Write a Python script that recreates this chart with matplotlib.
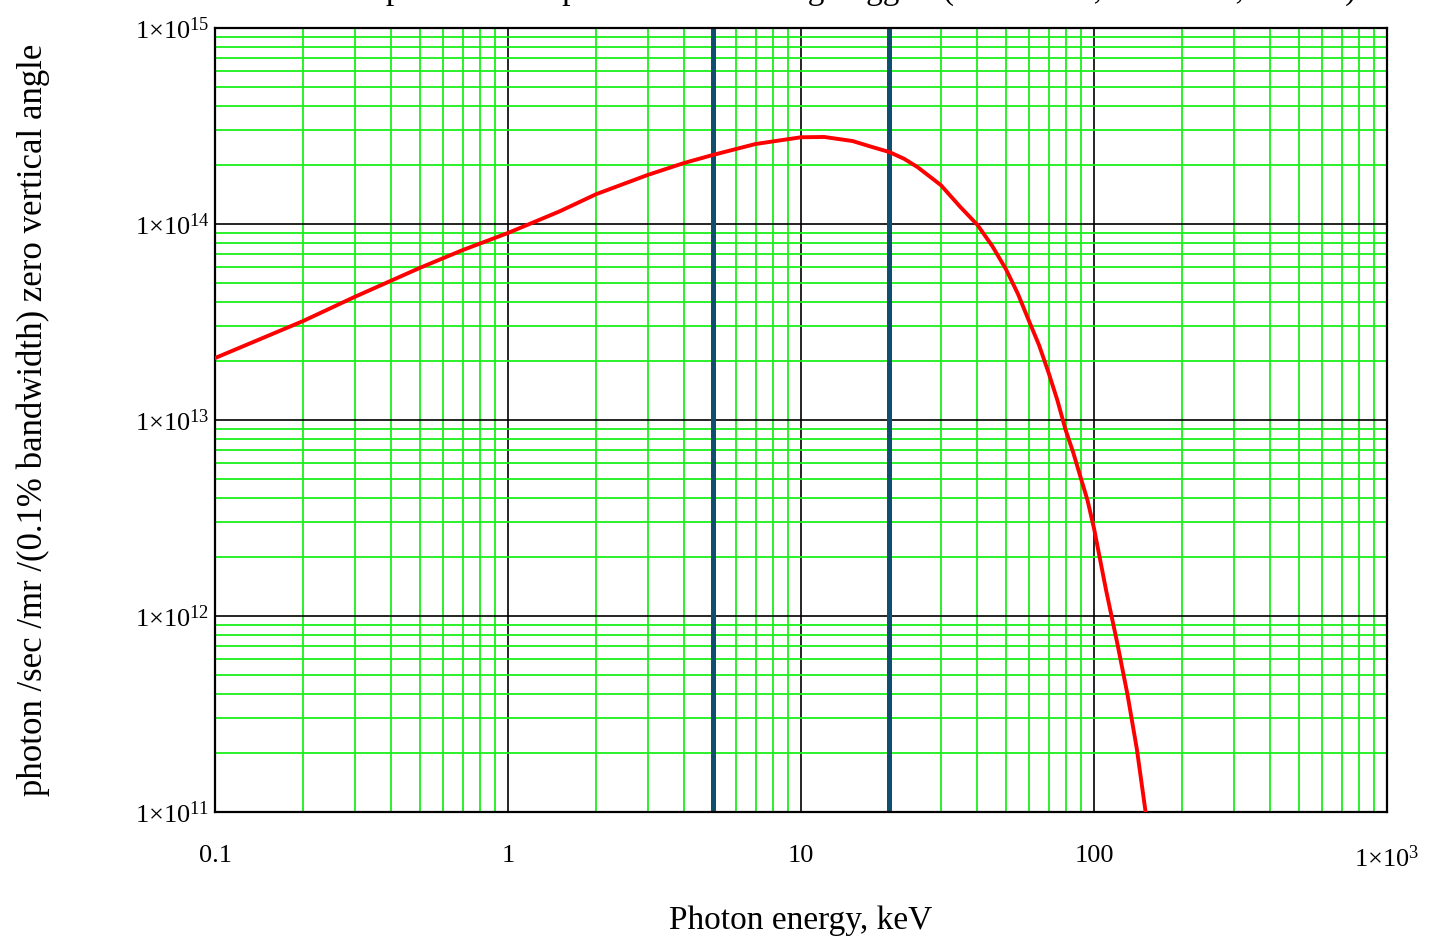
import matplotlib.pyplot as plt
from matplotlib.ticker import FixedLocator, LogLocator, NullFormatter
import numpy as np

# photon energy (keV) and flux
energy_kev = [0.1, 0.2, 0.3, 0.5, 0.7, 1, 1.5, 2, 3, 4, 5, 7, 10, 12, 15, 17.5, 20, 22.5,
              25, 30, 35, 40, 45, 50, 55, 60, 65, 70, 75, 80, 85, 90, 95, 100, 110, 120,
              130, 140, 150]
flux = [2.07e13, 3.2e13, 4.25e13, 5.97e13, 7.36e13, 9.0e13, 1.16e14, 1.42e14, 1.78e14,
        2.05e14, 2.25e14, 2.56e14, 2.77e14, 2.78e14, 2.65e14, 2.47e14, 2.33e14, 2.15e14,
        1.95e14, 1.58e14, 1.22e14, 9.9e13, 7.7e13, 5.9e13, 4.4e13, 3.2e13, 2.4e13,
        1.74e13, 1.26e13, 8.9e12, 6.8e12, 5.1e12, 3.9e12, 2.8e12, 1.35e12, 7.3e11,
        4.0e11, 2.1e11, 1.0e11]
marker_energies = [5, 20]  # vertical markers, keV

x_ticks = [0.1, 1, 10, 100, 1000]
x_tick_labels = ["0.1", "1", "10", "100", r"$1{\times}10^{3}$"]
y_ticks = [1e11, 1e12, 1e13, 1e14, 1e15]
y_tick_labels = [r"$1{\times}10^{%d}$" % e for e in range(11, 16)]

title = "Calculated photon flux spectrum of the long wiggler (E = 3 GeV, B = 1.5 T, N = 40)"

plt.rcParams['font.family'] = 'Liberation Serif'
plt.rcParams['mathtext.fontset'] = 'custom'
plt.rcParams['mathtext.rm'] = 'Liberation Serif'
plt.rcParams['mathtext.it'] = 'Liberation Serif:italic'

fig = plt.figure(figsize=(14.32, 9.47), dpi=100)
ax = fig.add_axes([215/1432, 1 - 812/947, (1387-215)/1432, (812-28)/947])

ax.set_xscale('log')
ax.set_yscale('log')
ax.set_xlim(0.1, 1000)
ax.set_ylim(1e11, 1e15)

# grid: green minor lines, black major lines
ax.xaxis.set_minor_locator(LogLocator(base=10, subs=np.arange(2, 10)))
ax.yaxis.set_minor_locator(LogLocator(base=10, subs=np.arange(2, 10)))
ax.xaxis.set_minor_formatter(NullFormatter())
ax.yaxis.set_minor_formatter(NullFormatter())
ax.grid(which='minor', color='#19f019', linewidth=1.3, zorder=0)
ax.grid(which='major', color='black', linewidth=1.2, zorder=1)
ax.set_axisbelow(True)

for e in marker_energies:
   ax.axvline(e, color='#0f4f6e', linewidth=3.6, zorder=2)

ax.plot(energy_kev, flux, color='#ff0000', linewidth=2.8, zorder=3, clip_on=True)

ax.xaxis.set_major_locator(FixedLocator(x_ticks))
ax.yaxis.set_major_locator(FixedLocator(y_ticks))
ax.set_xticklabels(x_tick_labels, fontsize=19)
ax.set_yticklabels(y_tick_labels, fontsize=19)
ax.tick_params(which='both', length=0)
ax.tick_params(axis='x', pad=24)
ax.tick_params(axis='y', pad=4)

for s in ax.spines.values():
   s.set_linewidth(1.6)
   s.set_color('black')

ax.set_xlabel("Photon energy, keV", fontsize=24)
ax.xaxis.set_label_coords(0.5, -(905-812)/784)
ax.set_ylabel("photon /sec /mr /(0.1% bandwidth) zero vertical angle", fontsize=25)
ax.yaxis.set_label_coords(-(215-50)/1172, 0.5)

# title sits almost entirely above the image edge, as in the original screenshot
fig.text(1356/1432, 1 + 1/947, title, fontsize=24, ha='right', va='baseline')

fig.savefig('out.png', dpi=100)
